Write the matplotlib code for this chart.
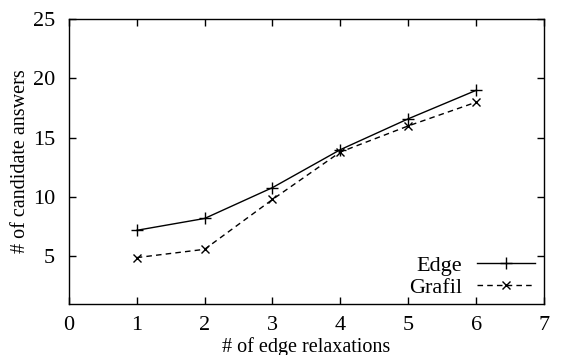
import matplotlib
matplotlib.use('Agg')
import matplotlib.pyplot as plt

# Datos
relaxations = [1, 2, 3, 4, 5, 6]
edge = [7.2, 8.2, 10.8, 14.0, 16.6, 19.0]
grafil = [4.9, 5.6, 9.8, 13.8, 16.0, 18.0]

plt.rcParams['font.family'] = ['Liberation Serif', 'DejaVu Serif']
plt.rcParams['font.size'] = 16

fig = plt.figure(figsize=(5.69, 3.55), dpi=100)
ax = fig.add_axes([0.121, 0.144, 0.835, 0.802])

ax.plot(relaxations, edge, color='black', linestyle='-', linewidth=1,
        marker='+', markersize=8, markeredgewidth=1, label='Edge')
ax.plot(relaxations, grafil, color='black', linestyle=(0, (4, 3)), linewidth=1,
        marker='x', markersize=6, markeredgewidth=1, label='Grafil')

ax.set_xlim(0, 7)
ax.set_ylim(1, 25)
ax.set_xticks(range(0, 8))
ax.set_yticks([5, 10, 15, 20, 25])
ax.tick_params(direction='in', top=True, right=True, length=5, width=1, pad=9)
ax.tick_params(axis='y', pad=10)
for s in ax.spines.values():
    s.set_linewidth(1)

ax.set_xlabel('# of edge relaxations', fontsize=14.5)
ax.xaxis.set_label_coords(0.5, -0.115)
ax.set_ylabel('# of candidate answers', fontsize=14.5)
ax.yaxis.set_label_coords(-0.082, 0.5)

ax.legend(loc='lower right', frameon=False, markerfirst=False, handlelength=2.6,
          handletextpad=0.68, labelspacing=0.05, borderaxespad=0, borderpad=0,
          bbox_to_anchor=(0.981, 0.021))

fig.savefig('out.png', dpi=100)
